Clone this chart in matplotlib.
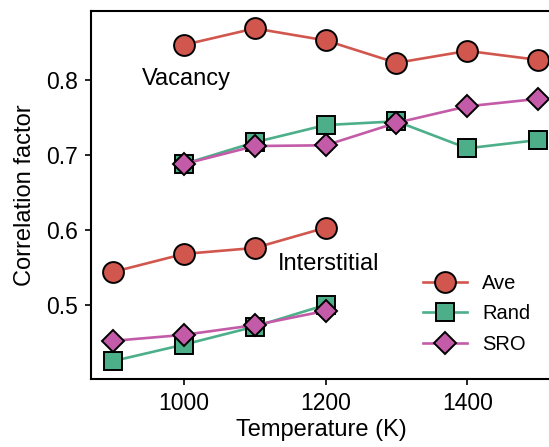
import matplotlib
matplotlib.use("Agg")
import matplotlib.pyplot as plt

plt.rcParams['font.family'] = ['Liberation Sans', 'DejaVu Sans']

temps_vac = [1000, 1100, 1200, 1300, 1400, 1500]
vac_ave = [0.847, 0.869, 0.853, 0.823, 0.839, 0.827]
vac_rand = [0.688, 0.717, 0.740, 0.745, 0.709, 0.720]
vac_sro = [0.688, 0.712, 0.713, 0.743, 0.765, 0.775]

temps_int = [900, 1000, 1100, 1200]
int_ave = [0.544, 0.568, 0.576, 0.603]
int_rand = [0.425, 0.447, 0.471, 0.500]
int_sro = [0.452, 0.460, 0.473, 0.492]

red = '#D1574E'
green = '#4CAF8A'
pink = '#C45BA8'

fig = plt.figure(figsize=(5.49, 4.47), dpi=100)
ax = fig.add_axes([0.166, 0.152, 0.84, 0.823])

lw = 1.9
kw = dict(markeredgecolor='black', markeredgewidth=1.4, lw=lw)
l1, = ax.plot(temps_vac, vac_ave, 'o', ls='-', color=red, markersize=15, label='Ave', **kw)
l2, = ax.plot(temps_vac, vac_rand, 's', ls='-', color=green, markersize=12.5, label='Rand', **kw)
l3, = ax.plot(temps_vac, vac_sro, 'D', ls='-', color=pink, markersize=11.5, label='SRO', **kw)
ax.plot(temps_int, int_ave, 'o', ls='-', color=red, markersize=15, **kw)
ax.plot(temps_int, int_rand, 's', ls='-', color=green, markersize=12.5, **kw)
ax.plot(temps_int, int_sro, 'D', ls='-', color=pink, markersize=11.5, **kw)

ax.set_xlim(869, 1520)
ax.set_ylim(0.401, 0.892)
ax.set_xticks([1000, 1200, 1400])
ax.set_yticks([0.5, 0.6, 0.7, 0.8])
ax.tick_params(direction='out', length=4.5, width=1.2, labelsize=16.5, pad=5)
for s in ax.spines.values():
    s.set_linewidth(1.5)

ax.text(1004, 0.802, 'Vacancy', fontsize=17, ha='center', va='center')
ax.text(1133, 0.555, 'Interstitial', fontsize=17, ha='left', va='center')

ax.set_xlabel('Temperature (K)', fontsize=17, labelpad=3)
ax.set_ylabel('Correlation factor', fontsize=17, labelpad=7)

ax.legend(handles=[l1, l2, l3], loc='lower right', frameon=False, fontsize=14.5,
          bbox_to_anchor=(0.978, 0.035), handlelength=2.2, labelspacing=0.58,
          handletextpad=0.75, borderaxespad=0.2)

fig.savefig('out.png', dpi=100)
